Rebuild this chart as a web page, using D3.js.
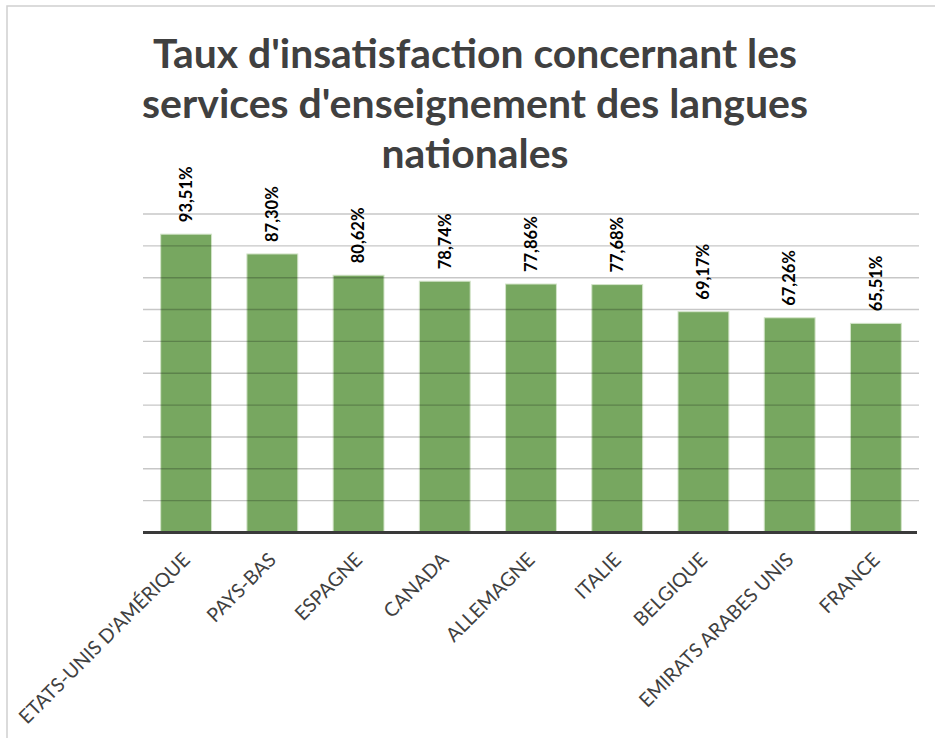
<!DOCTYPE html>
<html>
<head>
<meta charset="utf-8">
<script src="https://cdn.jsdelivr.net/npm/d3@7"></script>
<style>
  html, body { margin: 0; padding: 0; background: #fff; }
  svg { display: block; }
</style>
</head>
<body>
<svg id="chart" width="935" height="738"></svg>
<script>
const titleLines = [
  "Taux d'insatisfaction concernant les",
  "services d'enseignement des langues",
  "nationales"
];
const countries = [
  "ETATS-UNIS D'AMÉRIQUE", "PAYS-BAS", "ESPAGNE", "CANADA", "ALLEMAGNE",
  "ITALIE", "BELGIQUE", "EMIRATS ARABES UNIS", "FRANCE"
];
const rates = [93.51, 87.30, 80.62, 78.74, 77.86, 77.68, 69.17, 67.26, 65.51];
const gridTicks = [10, 20, 30, 40, 50, 60, 70, 80, 90, 100];

const svg = d3.select('#chart');
const fontFamily = "Lato, Carlito, 'Open Sans', sans-serif";

// chart frame
svg.append('rect')
  .attr('x', 7)
  .attr('y', 6)
  .attr('width', 1000)
  .attr('height', 1000)
  .attr('fill', '#fff')
  .attr('stroke', '#d0d0d0')
  .attr('stroke-width', 1.5);

// title, each line squeezed to the width it has in the original (Calibri-like)
const titleWidths = [644, 666, 187];
svg.append('g')
  .attr('font-family', fontFamily)
  .attr('font-weight', 'bold')
  .attr('font-size', 41)
  .attr('fill', '#404040')
  .attr('text-anchor', 'middle')
  .selectAll('text')
  .data(titleLines)
  .enter().append('text')
    .attr('x', 475)
    .attr('y', (d, i) => 68 + i * 50)
    .attr('textLength', (d, i) => titleWidths[i])
    .attr('lengthAdjust', 'spacingAndGlyphs')
    .text(d => d);

const x = d3.scaleBand()
  .domain(countries)
  .range([143, 919])
  .paddingInner(0.41)
  .paddingOuter(0.205);

const y = d3.scaleLinear()
  .domain([0, 100])
  .range([532, 213.5]);

const data = countries.map((c, i) => ({ country: c, rate: rates[i] }));

// bars
svg.append('g')
  .selectAll('rect')
  .data(data)
  .enter().append('rect')
    .attr('x', d => x(d.country))
    .attr('y', d => y(d.rate))
    .attr('width', x.bandwidth())
    .attr('height', d => y(0) - y(d.rate))
    .attr('fill', '#77a760')
    .attr('stroke', '#d3e4c9')
    .attr('stroke-width', 1);

// gridlines (drawn over bars, semi-transparent)
const yGrid = d3.axisLeft(y)
  .tickValues(gridTicks)
  .tickSize(-(919 - 143))
  .tickFormat('');
svg.append('g')
  .attr('transform', 'translate(143,0)')
  .call(yGrid)
  .call(g => g.select('.domain').remove())
  .call(g => g.selectAll('.tick line')
    .attr('stroke', '#000')
    .attr('stroke-opacity', 0.22)
    .attr('stroke-width', 1.4));

// baseline
svg.append('line')
  .attr('x1', 143)
  .attr('x2', 917)
  .attr('y1', y(0) + 0.5)
  .attr('y2', y(0) + 0.5)
  .attr('stroke', '#3a3a3a')
  .attr('stroke-width', 3);

// value labels
svg.append('g')
  .selectAll('text')
  .data(data)
  .enter().append('text')
    .attr('transform', d => `translate(${x(d.country) + x.bandwidth() / 2},${y(d.rate) - 12}) rotate(-90)`)
    .attr('dy', '0.35em')
    .attr('font-family', fontFamily)
    .attr('font-weight', 'bold')
    .attr('font-size', 16.5)
    .attr('fill', '#000')
    .text(d => d.rate.toFixed(2).replace('.', ',') + '%');

// category labels
svg.append('g')
  .selectAll('text')
  .data(countries)
  .enter().append('text')
    .attr('transform', d => `translate(${x(d) + x.bandwidth() / 2 + 5},${y(0) + 29}) rotate(-45)`)
    .attr('text-anchor', 'end')
    .attr('font-family', fontFamily)
    .attr('font-size', 19.5)
    .attr('fill', '#404040')
    .text(d => d);
</script>
</body>
</html>
